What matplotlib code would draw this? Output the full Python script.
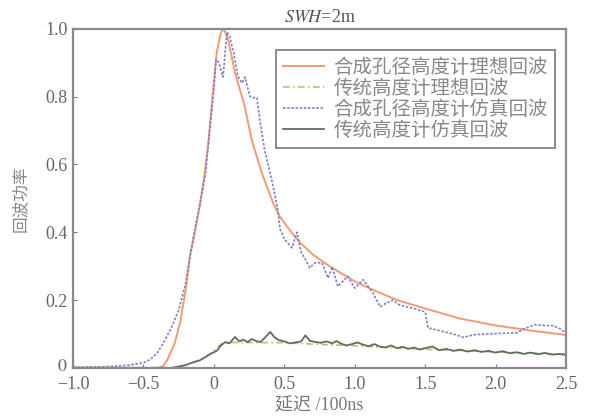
import matplotlib.pyplot as plt
import matplotlib.transforms as mtransforms

plt.rcParams['font.family'] = ['Liberation Serif', 'Noto Sans CJK SC']
plt.rcParams['mathtext.fontset'] = 'stix'

# 合成孔径高度计理想回波
sar_ideal_x = [-1.0, -0.4, -0.36, -0.33, -0.28, -0.24, -0.2, -0.17, -0.13, -0.1, -0.07, -0.04,
               -0.01, 0.02, 0.05, 0.07, 0.1, 0.15, 0.22, 0.27, 0.34, 0.42, 0.47, 0.55, 0.61,
               0.7, 0.82, 0.9, 1.0, 1.13, 1.3, 1.5, 1.75, 2.0, 2.25, 2.5]
sar_ideal_y = [0.0, 0.0, 0.005, 0.024, 0.07, 0.133, 0.23, 0.328, 0.41, 0.48, 0.56, 0.66,
               0.8, 0.93, 0.99, 1.0, 0.97, 0.87, 0.77, 0.67, 0.575, 0.487, 0.445, 0.4, 0.37,
               0.335, 0.3, 0.28, 0.255, 0.23, 0.2, 0.175, 0.145, 0.125, 0.11, 0.097]

# 传统高度计理想回波
trad_ideal_x = [-1.0, -0.3, -0.25, -0.15, -0.1, -0.05, 0.0, 0.05, 0.1, 0.5, 0.7, 1.0, 1.5, 2.0, 2.5]
trad_ideal_y = [0.0, 0.0, 0.003, 0.015, 0.024, 0.035, 0.05, 0.07, 0.075, 0.074, 0.07, 0.065,
                0.055, 0.047, 0.04]

# 合成孔径高度计仿真回波
sar_sim_x = [-1.0, -0.8, -0.7, -0.6, -0.5, -0.45, -0.4, -0.35, -0.3, -0.25, -0.2, -0.17, -0.13,
             -0.1, -0.06, -0.03, 0.0, 0.015, 0.035, 0.065, 0.08, 0.093, 0.11, 0.14, 0.17, 0.2,
             0.22, 0.256, 0.28, 0.305, 0.33, 0.36, 0.41, 0.45, 0.47, 0.5, 0.554, 0.59, 0.62,
             0.65, 0.68, 0.72, 0.767, 0.81, 0.84, 0.88, 0.95, 1.0, 1.06, 1.13, 1.18, 1.22, 1.27,
             1.32, 1.37, 1.42, 1.5, 1.52, 1.6, 1.7, 1.77, 1.85, 1.95, 2.05, 2.15, 2.2, 2.28, 2.35,
             2.41, 2.46, 2.5]
sar_sim_y = [0.002, 0.003, 0.005, 0.008, 0.015, 0.025, 0.045, 0.08, 0.12, 0.17, 0.25, 0.33, 0.42,
             0.48, 0.57, 0.7, 0.82, 0.91, 0.9, 0.858, 0.93, 0.99, 0.98, 0.93, 0.86, 0.84,
             0.858, 0.8, 0.797, 0.797, 0.72, 0.643, 0.555, 0.475, 0.41, 0.38, 0.354, 0.4, 0.34,
             0.32, 0.295, 0.31, 0.31, 0.265, 0.298, 0.24, 0.27, 0.235, 0.26, 0.22, 0.18, 0.19, 0.2,
             0.185, 0.18, 0.175, 0.165, 0.118, 0.11, 0.1, 0.09, 0.098, 0.1, 0.102, 0.103, 0.115, 0.127,
             0.125, 0.124, 0.115, 0.103]

# 传统高度计仿真回波
trad_sim_x = [-1.0, -0.3, -0.25, -0.2, -0.15, -0.1, -0.06, -0.02, 0.02, 0.05, 0.08, 0.11, 0.15,
              0.18, 0.21, 0.24, 0.27, 0.3, 0.33, 0.36, 0.4, 0.43, 0.46, 0.5, 0.54, 0.58, 0.62,
              0.65, 0.68, 0.72, 0.76, 0.8, 0.84, 0.87, 0.9, 0.94, 0.98, 1.02, 1.06, 1.1, 1.14,
              1.18, 1.22, 1.26, 1.3, 1.34, 1.38, 1.42, 1.46, 1.5, 1.55, 1.6, 1.65, 1.7, 1.75,
              1.8, 1.85, 1.9, 1.95, 2.0, 2.05, 2.1, 2.15, 2.2, 2.25, 2.3, 2.35, 2.4, 2.45, 2.5]
trad_sim_y = [0.0, 0.0, 0.004, 0.008, 0.016, 0.022, 0.032, 0.042, 0.05, 0.066, 0.076, 0.072, 0.091,
              0.078, 0.083, 0.076, 0.085, 0.079, 0.076, 0.088, 0.106, 0.09, 0.082, 0.078, 0.072,
              0.075, 0.078, 0.096, 0.08, 0.076, 0.074, 0.078, 0.072, 0.079, 0.072, 0.066, 0.07,
              0.075, 0.068, 0.064, 0.07, 0.062, 0.06, 0.066, 0.058, 0.062, 0.056, 0.06, 0.054,
              0.058, 0.063, 0.052, 0.056, 0.05, 0.054, 0.048, 0.052, 0.047, 0.05, 0.045, 0.049,
              0.043, 0.046, 0.041, 0.045, 0.04, 0.044, 0.039, 0.041, 0.038]

labels = ['合成孔径高度计理想回波', '传统高度计理想回波', '合成孔径高度计仿真回波', '传统高度计仿真回波']
xticks = [-1.0, -0.5, 0, 0.5, 1.0, 1.5, 2.0, 2.5]
xtick_labels = ['\u22121.0', '\u22120.5', '0', '0.5', '1.0', '1.5', '2.0', '2.5']
yticks = [0, 0.2, 0.4, 0.6, 0.8, 1.0]
ytick_labels = ['$0$', '0.2', '0.4', '0.6', '0.8', '1.0']

grey = '#7a7a7a'

fig = plt.figure(figsize=(5.89, 4.18), dpi=100)
ax = fig.add_axes([0.124, 0.12, 0.837, 0.811])

ax.plot(sar_ideal_x, sar_ideal_y, color='#f29a72', lw=1.4, label=labels[0])
ax.plot(trad_ideal_x, trad_ideal_y, color='#b9c46e', lw=1.2, ls=(0, (4, 2, 1, 2)), label=labels[1])
ax.plot(sar_sim_x, sar_sim_y, color='#7d7fc9', lw=1.2, ls=(0, (1.5, 1)), label=labels[2])
ax.plot(trad_sim_x, trad_sim_y, color='#5e6e60', lw=1.3, label=labels[3])

ax.set_xlim(-1.0, 2.5)
ax.set_ylim(0, 1.0)
ax.set_xticks(xticks)
ax.set_xticklabels(xtick_labels)
ax.set_yticks(yticks)
ax.set_yticklabels(ytick_labels)
ax.tick_params(direction='in', length=3, color=grey, labelcolor='#666666', labelsize=13)
ax.tick_params(axis='x', pad=6)
ax.tick_params(axis='y', pad=4)

# nudge the y "0" up a little, as in the reference
lab0 = ax.get_yticklabels()[0]
lab0.set_transform(lab0.get_transform() + mtransforms.ScaledTranslation(0, 3 / 100, fig.dpi_scale_trans))

for s in ax.spines.values():
    s.set_color('#8a8a8a')
    s.set_linewidth(1.6)

ax.set_title('$SWH$=2m', fontsize=13, color='#555555', pad=5)
ax.set_xlabel('延迟 /100ns', fontsize=13, color='#777777', labelpad=2)
ax.set_ylabel('回波功率', fontsize=12, color='#888888', labelpad=12,
              family=['Noto Sans CJK SC', 'DejaVu Sans'])

leg = ax.legend(loc='upper right', bbox_to_anchor=(0.997, 0.965),
                prop={'family': ['Noto Sans CJK SC', 'DejaVu Sans'], 'size': 14},
                handlelength=2.1, labelspacing=0.0, borderpad=0.35, handletextpad=0.5,
                fancybox=False, framealpha=1)
leg.get_frame().set_edgecolor('#8a8a8a')
leg.get_frame().set_linewidth(1.4)
for t in leg.get_texts():
    t.set_color('#888888')

fig.savefig('out.png', dpi=100)
